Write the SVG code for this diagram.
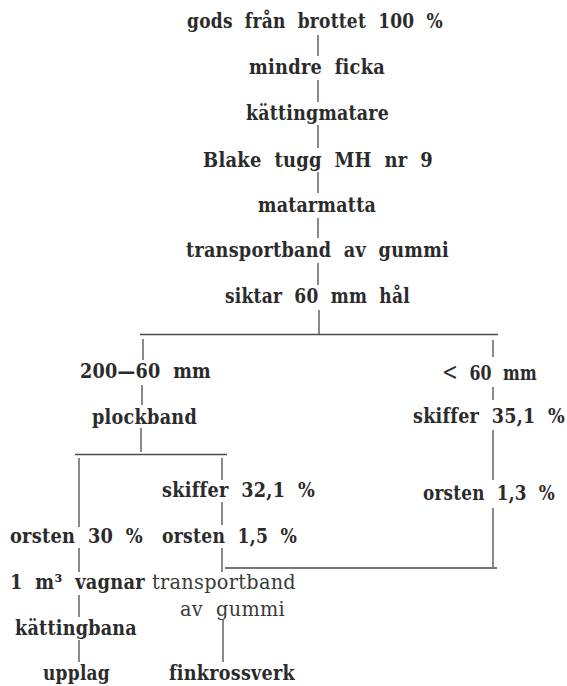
<svg xmlns="http://www.w3.org/2000/svg" width="567" height="686" viewBox="0 0 567 686">
<style>
text{font-family:"DejaVu Serif","Liberation Serif",serif;font-weight:bold;font-size:20px;fill:#2b2b2b;word-spacing:7px;letter-spacing:0.3px}
.lt{font-weight:normal;fill:#3a3a3a}
.c line{stroke:#4a4a4a;stroke-width:1.3}
</style>
<rect width="567" height="686" fill="#fff"/>
<g class="c" id="connectors">
<line x1="318" y1="35" x2="318" y2="56"/>
<line x1="318" y1="80" x2="318" y2="102"/>
<line x1="318" y1="125" x2="318" y2="148"/>
<line x1="318" y1="172" x2="318" y2="193"/>
<line x1="318" y1="218" x2="318" y2="238"/>
<line x1="318" y1="263" x2="318" y2="285"/>
<line x1="319" y1="310" x2="319" y2="334"/>
<line x1="140" y1="334.5" x2="498" y2="334.5"/>
<line x1="143" y1="339" x2="143" y2="360"/>
<line x1="142" y1="385" x2="142" y2="405"/>
<line x1="141" y1="428" x2="141" y2="452"/>
<line x1="75" y1="454.5" x2="227" y2="454.5"/>
<line x1="79" y1="458" x2="79" y2="527"/>
<line x1="222" y1="458" x2="222" y2="480"/>
<line x1="493" y1="340" x2="493" y2="357"/>
<line x1="493" y1="387" x2="493" y2="400"/>
<line x1="493" y1="430" x2="493" y2="480"/>
<line x1="493" y1="508" x2="493" y2="567"/>
<line x1="225" y1="568" x2="497" y2="568"/>
<line x1="222" y1="502" x2="222" y2="525"/>
<line x1="222" y1="548" x2="222" y2="572"/>
<line x1="223" y1="620" x2="223" y2="662"/>
<line x1="79" y1="548" x2="79" y2="572"/>
<line x1="79" y1="595" x2="79" y2="617"/>
<line x1="79" y1="640" x2="79" y2="662"/>
</g>
<g id="n-gods"><text x="187" y="28" textLength="256" lengthAdjust="spacingAndGlyphs">gods från brottet 100 %</text></g>
<g id="n-ficka"><text x="249" y="74" textLength="136" lengthAdjust="spacingAndGlyphs">mindre ficka</text></g>
<g id="n-kattingmatare"><text x="246" y="120" textLength="143" lengthAdjust="spacingAndGlyphs">kättingmatare</text></g>
<g id="n-blake"><text x="203" y="167" textLength="230" lengthAdjust="spacingAndGlyphs">Blake tugg MH nr 9</text></g>
<g id="n-matarmatta"><text x="258" y="212" textLength="118" lengthAdjust="spacingAndGlyphs">matarmatta</text></g>
<g id="n-transportband1"><text x="186" y="257" textLength="263" lengthAdjust="spacingAndGlyphs">transportband av gummi</text></g>
<g id="n-siktar"><text x="225" y="303" textLength="185" lengthAdjust="spacingAndGlyphs">siktar 60 mm hål</text></g>
<g id="n-200-60"><text x="80" y="378" textLength="131" lengthAdjust="spacingAndGlyphs">200—60 mm</text></g>
<g id="n-plockband"><text x="92" y="424" textLength="105" lengthAdjust="spacingAndGlyphs">plockband</text></g>
<g id="n-lt60"><text x="442" y="380" textLength="95" lengthAdjust="spacingAndGlyphs"><tspan font-weight="normal" font-size="24">&lt;</tspan> 60 mm</text></g>
<g id="n-skiffer351"><text x="413" y="423" textLength="152" lengthAdjust="spacingAndGlyphs">skiffer 35,1 %</text></g>
<g id="n-orsten13"><text x="423" y="500" textLength="132" lengthAdjust="spacingAndGlyphs">orsten 1,3 %</text></g>
<g id="n-skiffer321"><text x="162" y="497" textLength="153" lengthAdjust="spacingAndGlyphs">skiffer 32,1 %</text></g>
<g id="n-orsten15"><text x="162" y="543" textLength="135" lengthAdjust="spacingAndGlyphs">orsten 1,5 %</text></g>
<g id="n-orsten30"><text x="10" y="543" textLength="133" lengthAdjust="spacingAndGlyphs">orsten 30 %</text></g>
<g id="n-vagnar"><text x="10" y="589" textLength="135" lengthAdjust="spacingAndGlyphs">1 m³ vagnar</text></g>
<g id="n-transportband2"><text class="lt" x="152" y="589" textLength="144" lengthAdjust="spacingAndGlyphs">transportband</text><text class="lt" x="180" y="616" textLength="105" lengthAdjust="spacingAndGlyphs">av gummi</text></g>
<g id="n-kattingbana"><text x="15" y="635" textLength="122" lengthAdjust="spacingAndGlyphs">kättingbana</text></g>
<g id="n-upplag"><text x="43" y="680" textLength="67" lengthAdjust="spacingAndGlyphs">upplag</text></g>
<g id="n-finkrossverk"><text x="169" y="680" textLength="126" lengthAdjust="spacingAndGlyphs">finkrossverk</text></g>
</svg>
